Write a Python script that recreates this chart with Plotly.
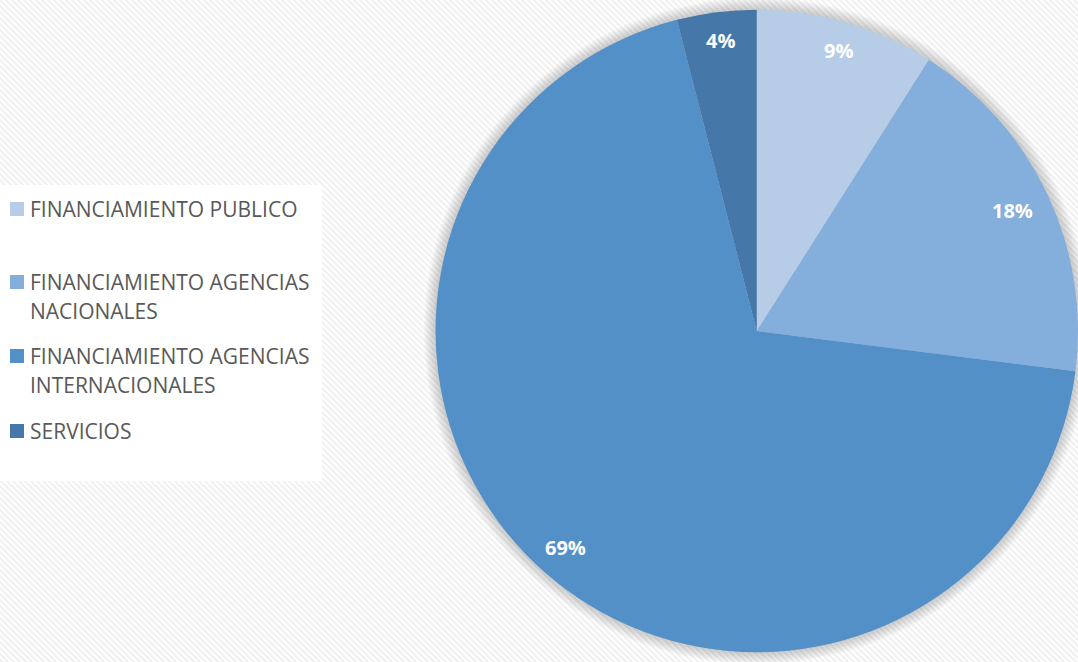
import base64
import math
import textwrap

import plotly.graph_objects as go

# Funding sources and their share of the total (%)
labels = [
    "FINANCIAMIENTO PUBLICO",
    "FINANCIAMIENTO AGENCIAS NACIONALES",
    "FINANCIAMIENTO AGENCIAS INTERNACIONALES",
    "SERVICIOS",
]
values = [9, 18, 69, 4]
colors = ["#B7CDE7", "#84AEDB", "#5490C8", "#4577A8"]

W, H = 1078, 662
DOM_X = [0.404, 1.0]
DOM_Y = [0.0, 1.0]

# Pie geometry in pixels (plotly sizes the pie from the smaller domain side)
cx = W * (DOM_X[0] + DOM_X[1]) / 2
cy = H * (1 - (DOM_Y[0] + DOM_Y[1]) / 2)
R = min(W * (DOM_X[1] - DOM_X[0]), H * (DOM_Y[1] - DOM_Y[0])) / 2


def px(x, y):
    """Pixel position -> paper coordinates."""
    return x / W, 1 - y / H


# Faint diagonal hatch used as the page background
hatch_svg = f"""<svg xmlns="http://www.w3.org/2000/svg" width="{W}" height="{H}">
<defs><pattern id="p" patternUnits="userSpaceOnUse" width="6" height="6">
<rect width="6" height="6" fill="#ffffff"/>
<path d="M-1,-1 L7,7 M-1,5 L1,7 M5,-1 L7,1" stroke="#f1f1f1" stroke-width="2"/>
</pattern></defs>
<rect width="{W}" height="{H}" fill="url(#p)"/>
</svg>"""
hatch_uri = "data:image/svg+xml;base64," + base64.b64encode(hatch_svg.encode()).decode()

fig = go.Figure(
    go.Pie(
        labels=labels,
        values=values,
        marker=dict(colors=colors, line=dict(width=0)),
        sort=False,
        direction="clockwise",
        rotation=0,
        textinfo="none",
        hoverinfo="label+percent",
        domain=dict(x=DOM_X, y=DOM_Y),
        showlegend=False,
    )
)

shapes = []
# Soft shadow halo around the pie
for i in range(12):
    r = R + 12 - i
    shapes.append(dict(type="circle", xref="paper", yref="paper",
                       x0=(cx - r) / W, x1=(cx + r) / W,
                       y0=1 - (cy + r) / H, y1=1 - (cy - r) / H,
                       fillcolor="rgba(70,70,70,0.022)", line=dict(width=0),
                       layer="below"))

# Legend panel
lx0, ly0 = px(0, 185)
lx1, ly1 = px(322, 481)
shapes.append(dict(type="rect", xref="paper", yref="paper",
                   x0=lx0, x1=lx1, y0=ly1, y1=ly0,
                   fillcolor="white", line=dict(width=0), layer="below"))

annotations = []
# Legend entries
entry_y = [209, 282, 356, 431]
line_gap = 29
for lab, col, yy in zip(labels, colors, entry_y):
    sx0, sy0 = px(10, yy - 7)
    sx1, sy1 = px(24, yy + 7)
    shapes.append(dict(type="rect", xref="paper", yref="paper",
                       x0=sx0, x1=sx1, y0=sy1, y1=sy0,
                       fillcolor=col, line=dict(width=0)))
    for k, line in enumerate(textwrap.wrap(lab, width=24)):
        ax, ay = px(28, yy + k * line_gap)
        annotations.append(dict(x=ax, y=ay, xref="paper", yref="paper",
                                text=line, showarrow=False,
                                xanchor="left", yanchor="middle",
                                font=dict(family="Open Sans", size=21, color="#595959")))

# Percentage labels near the outer edge of each slice
total = sum(values)
cum = 0
label_r = [0.91, 0.88, 0.90, 0.91]
for v, fr in zip(values, label_r):
    mid = (cum + v / 2) / total * 2 * math.pi
    cum += v
    x = cx + fr * R * math.sin(mid)
    y = cy - fr * R * math.cos(mid)
    ax, ay = px(x, y)
    annotations.append(dict(x=ax, y=ay, xref="paper", yref="paper",
                            text=f"<b>{v}%</b>", showarrow=False,
                            xanchor="center", yanchor="middle",
                            font=dict(family="Open Sans", size=20, color="white")))

fig.update_layout(
    width=W,
    height=H,
    margin=dict(l=0, r=0, t=0, b=0),
    paper_bgcolor="white",
    plot_bgcolor="white",
    images=[dict(source=hatch_uri, xref="paper", yref="paper", x=0, y=1,
                 sizex=1, sizey=1, sizing="stretch", xanchor="left",
                 yanchor="top", layer="below")],
    shapes=shapes,
    annotations=annotations,
)

fig.write_html("out.html")
